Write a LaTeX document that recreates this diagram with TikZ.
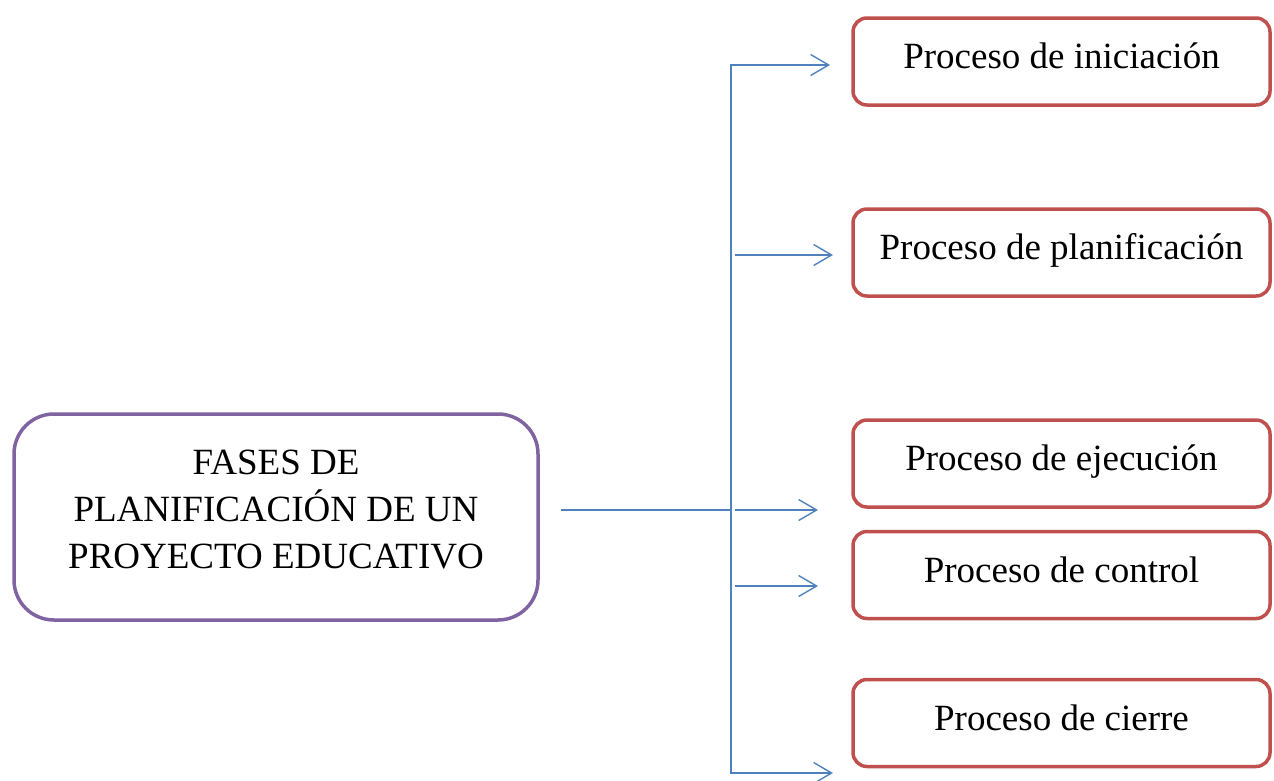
\documentclass[tikz,border=0pt]{standalone}
\usepackage{fontspec}
\setmainfont{Liberation Serif}
\usetikzlibrary{arrows.meta}
\definecolor{phasered}{RGB}{192,80,77}
\definecolor{titlepurple}{RGB}{128,100,162}
\definecolor{linkblue}{RGB}{79,129,189}
\tikzset{
  titlebox/.style={draw=titlepurple, line width=3.5pt, rounded corners=40pt,
    minimum width=524pt, minimum height=206pt, align=center, text depth=16pt,
    font=\fontsize{37}{47}\selectfont},
  phasebox/.style={draw=phasered, line width=3.5pt, rounded corners=14pt,
    minimum width=417pt, minimum height=87pt, text height=26pt, text depth=12pt,
    font=\fontsize{37}{44}\selectfont},
  link/.style={draw=linkblue, line width=1.4pt},
  barb/.tip={Straight Barb[length=18pt,width=21pt]}
}

\begin{document}
\begin{tikzpicture}[x=1pt,y=-1pt]
  \useasboundingbox (0,0) rectangle (1274,780);
  % title
  \node[titlebox] (main) at (276,517) {FASES DE\\PLANIFICACIÓN DE UN\\PROYECTO EDUCATIVO};
  % phases
  \node[phasebox] (ini) at (1061.5,61.5) {Proceso de iniciación};
  \node[phasebox] (plan) at (1061.5,252.5) {Proceso de planificación};
  \node[phasebox] (ejec) at (1061.5,463.5) {Proceso de ejecución};
  \node[phasebox] (ctrl) at (1061.5,575) {Proceso de control};
  \node[phasebox] (cierre) at (1061.5,723) {Proceso de cierre};
  % connectors
  \coordinate (top) at (731,65);
  \coordinate (bot) at (731,773);
  \coordinate (split) at (731,510);
  \coordinate (a1) at (830,65);
  \coordinate (a2) at (833,255);
  \coordinate (a3) at (818,510);
  \coordinate (a4) at (818,586);
  \coordinate (a5) at (833,773);
  \draw[link, shorten <=21pt] (main.east |- split) -- (split);
  \draw[link, barb-barb] (a1) -- (top) -- (bot) -- (a5);
  \foreach \n in {a2,a3,a4}{
    \draw[link, -barb, shorten <=4pt] (top |- \n) -- (\n);
  }
\end{tikzpicture}
\end{document}
